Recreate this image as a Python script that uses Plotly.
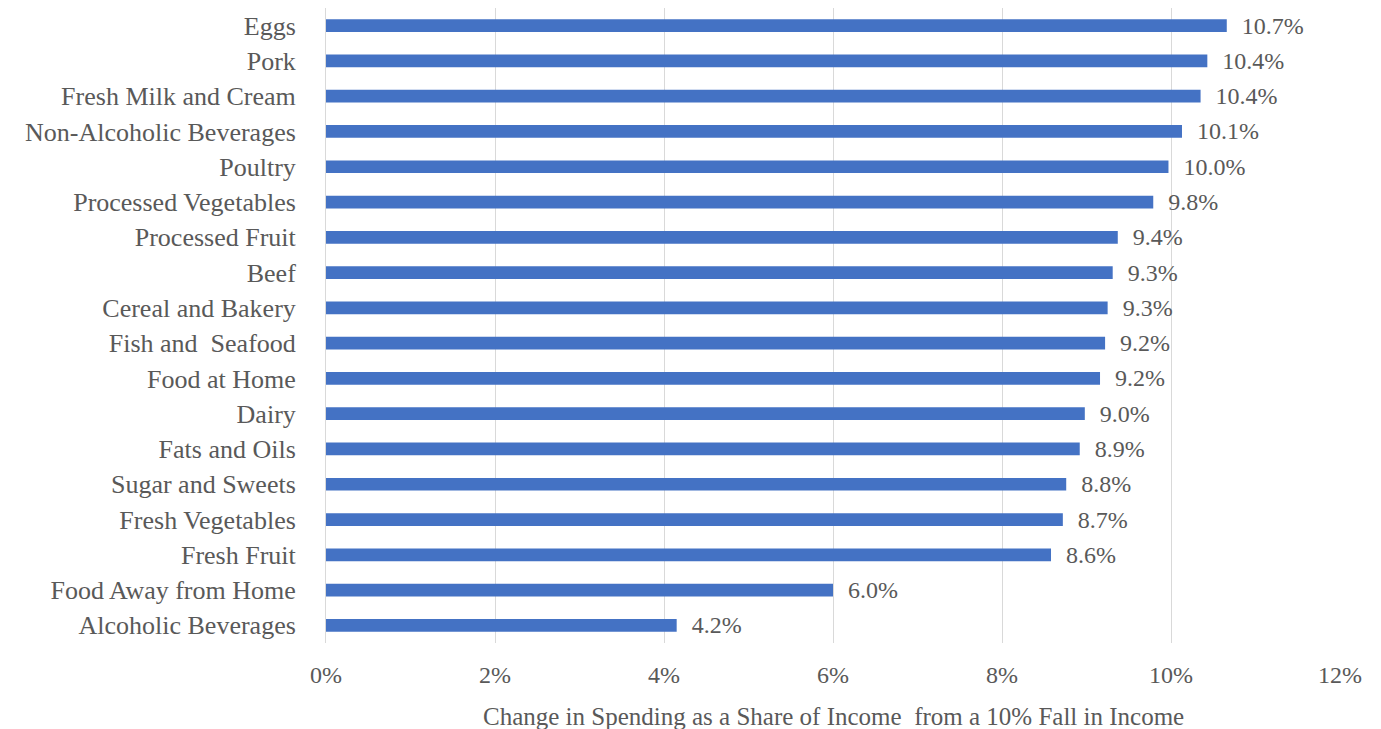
import plotly.graph_objects as go

categories = ["Eggs", "Pork", "Fresh Milk and Cream", "Non-Alcoholic Beverages", "Poultry",
              "Processed Vegetables", "Processed Fruit", "Beef", "Cereal and Bakery",
              "Fish and  Seafood", "Food at Home", "Dairy", "Fats and Oils",
              "Sugar and Sweets", "Fresh Vegetables", "Fresh Fruit",
              "Food Away from Home", "Alcoholic Beverages"]
values = [10.66, 10.43, 10.35, 10.13, 9.97, 9.79, 9.37, 9.31, 9.25, 9.22, 9.16,
          8.98, 8.92, 8.76, 8.72, 8.58, 6.0, 4.15]
value_labels = ["10.7%", "10.4%", "10.4%", "10.1%", "10.0%", "9.8%", "9.4%", "9.3%",
                "9.3%", "9.2%", "9.2%", "9.0%", "8.9%", "8.8%", "8.7%", "8.6%",
                "6.0%", "4.2%"]
tick_vals = [0, 2, 4, 6, 8, 10, 12]
tick_text = ["0%", "2%", "4%", "6%", "8%", "10%", "12%"]
x_title = "Change in Spending as a Share of Income  from a 10% Fall in Income"

FONT = "Liberation Serif"
GRAY = "#595959"

fig = go.Figure(go.Bar(
    x=values, y=categories, orientation="h",
    marker=dict(color="#4472C4", line=dict(width=0)),
    width=0.36,
    text=value_labels, texttemplate="  %{text}", textposition="outside",
    cliponaxis=False, constraintext="none",
    textfont=dict(family=FONT, size=24, color=GRAY),
))

fig.update_layout(
    width=1381, height=729,
    margin=dict(l=326, r=41, t=8, b=86, autoexpand=False),
    plot_bgcolor="white", paper_bgcolor="white",
    showlegend=False,
    font=dict(family=FONT, size=24, color=GRAY),
)
fig.add_annotation(
    text=x_title, xref="paper", yref="paper", x=0.5, y=0,
    xanchor="center", yanchor="top", yshift=-58, showarrow=False,
    font=dict(family=FONT, size=25, color=GRAY),
)
fig.update_xaxes(
    range=[0, 12], tickvals=tick_vals, ticktext=tick_text,
    showgrid=True, gridcolor="#d9d9d9", gridwidth=1,
    zeroline=False, showline=False, ticks="",
    ticklabelstandoff=15, automargin=False,
    tickfont=dict(family=FONT, size=24, color=GRAY),
)
fig.update_yaxes(
    autorange="reversed", showgrid=False, zeroline=False,
    showline=True, linecolor="#d9d9d9", linewidth=1, ticks="",
    ticklabelstandoff=24, automargin=False,
    tickfont=dict(family=FONT, size=26, color=GRAY),
)

fig.write_html("out.html")
